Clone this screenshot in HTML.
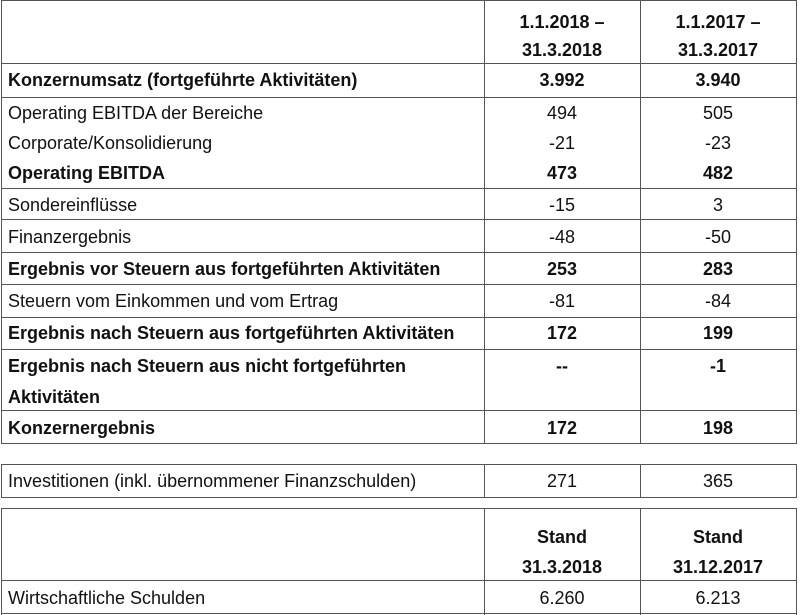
<!DOCTYPE html>
<html><head><meta charset="utf-8"><style>
body{margin:0;width:800px;height:615px;background:#fff;position:relative;overflow:hidden;font-family:"Liberation Sans",Arial,sans-serif;font-size:18px;color:#111}
.t{position:absolute;white-space:nowrap;line-height:22px;transform:translateY(-50%)}
.l{left:8px}
.c1{left:484px;width:156px;text-align:center}
.c2{left:640px;width:156px;text-align:center}
b{font-weight:bold}
.h{position:absolute;height:1px;background:#555}
.v{position:absolute;width:1px;background:#555}
.box{position:absolute;border:1px solid #555;box-sizing:border-box}
</style></head><body>
<div class="box" style="left:1px;top:0;width:796px;height:444px"></div>
<div class="v" style="left:484px;top:0;height:444px"></div>
<div class="v" style="left:640px;top:0;height:444px"></div>
<div class="h" style="left:1px;top:63px;width:796px"></div>
<div class="h" style="left:1px;top:97px;width:796px"></div>
<div class="h" style="left:1px;top:188px;width:796px"></div>
<div class="h" style="left:1px;top:219px;width:796px"></div>
<div class="h" style="left:1px;top:252px;width:796px"></div>
<div class="h" style="left:1px;top:284px;width:796px"></div>
<div class="h" style="left:1px;top:317px;width:796px"></div>
<div class="h" style="left:1px;top:349px;width:796px"></div>
<div class="h" style="left:1px;top:410px;width:796px"></div>

<div class="t c1" style="top:22px"><b>1.1.2018 –</b></div>
<div class="t c1" style="top:50px"><b>31.3.2018</b></div>
<div class="t c2" style="top:22px"><b>1.1.2017 –</b></div>
<div class="t c2" style="top:50px"><b>31.3.2017</b></div>

<div class="t l" style="top:80px"><b>Konzernumsatz (fortgeführte Aktivitäten)</b></div>
<div class="t c1" style="top:80px"><b>3.992</b></div>
<div class="t c2" style="top:80px"><b>3.940</b></div>

<div class="t l" style="top:113px">Operating EBITDA der Bereiche</div>
<div class="t c1" style="top:113px">494</div>
<div class="t c2" style="top:113px">505</div>

<div class="t l" style="top:143px">Corporate/Konsolidierung</div>
<div class="t c1" style="top:143px">-21</div>
<div class="t c2" style="top:143px">-23</div>

<div class="t l" style="top:173px"><b>Operating EBITDA</b></div>
<div class="t c1" style="top:173px"><b>473</b></div>
<div class="t c2" style="top:173px"><b>482</b></div>

<div class="t l" style="top:205px">Sondereinflüsse</div>
<div class="t c1" style="top:205px">-15</div>
<div class="t c2" style="top:205px">3</div>

<div class="t l" style="top:237px">Finanzergebnis</div>
<div class="t c1" style="top:237px">-48</div>
<div class="t c2" style="top:237px">-50</div>

<div class="t l" style="top:269px"><b>Ergebnis vor Steuern aus fortgeführten Aktivitäten</b></div>
<div class="t c1" style="top:269px"><b>253</b></div>
<div class="t c2" style="top:269px"><b>283</b></div>

<div class="t l" style="top:301px">Steuern vom Einkommen und vom Ertrag</div>
<div class="t c1" style="top:301px">-81</div>
<div class="t c2" style="top:301px">-84</div>

<div class="t l" style="top:333px"><b>Ergebnis nach Steuern aus fortgeführten Aktivitäten</b></div>
<div class="t c1" style="top:333px"><b>172</b></div>
<div class="t c2" style="top:333px"><b>199</b></div>

<div class="t l" style="top:366px"><b>Ergebnis nach Steuern aus nicht fortgeführten</b></div>
<div class="t l" style="top:397px"><b>Aktivitäten</b></div>
<div class="t c1" style="top:366px"><b>--</b></div>
<div class="t c2" style="top:366px"><b>-1</b></div>

<div class="t l" style="top:428px"><b>Konzernergebnis</b></div>
<div class="t c1" style="top:428px"><b>172</b></div>
<div class="t c2" style="top:428px"><b>198</b></div>

<div class="box" style="left:1px;top:464px;width:796px;height:34px"></div>
<div class="v" style="left:484px;top:464px;height:34px"></div>
<div class="v" style="left:640px;top:464px;height:34px"></div>
<div class="t l" style="top:481px">Investitionen (inkl. übernommener Finanzschulden)</div>
<div class="t c1" style="top:481px">271</div>
<div class="t c2" style="top:481px">365</div>

<div class="box" style="left:1px;top:508px;width:796px;height:107px;border-bottom:none"></div>
<div class="v" style="left:484px;top:508px;height:107px"></div>
<div class="v" style="left:640px;top:508px;height:107px"></div>
<div class="h" style="left:1px;top:580px;width:796px"></div>
<div class="h" style="left:1px;top:613px;width:796px"></div>
<div class="t c1" style="top:537px"><b>Stand</b></div>
<div class="t c1" style="top:567px"><b>31.3.2018</b></div>
<div class="t c2" style="top:537px"><b>Stand</b></div>
<div class="t c2" style="top:567px"><b>31.12.2017</b></div>
<div class="t l" style="top:598px">Wirtschaftliche Schulden</div>
<div class="t c1" style="top:598px">6.260</div>
<div class="t c2" style="top:598px">6.213</div>
</body></html>
